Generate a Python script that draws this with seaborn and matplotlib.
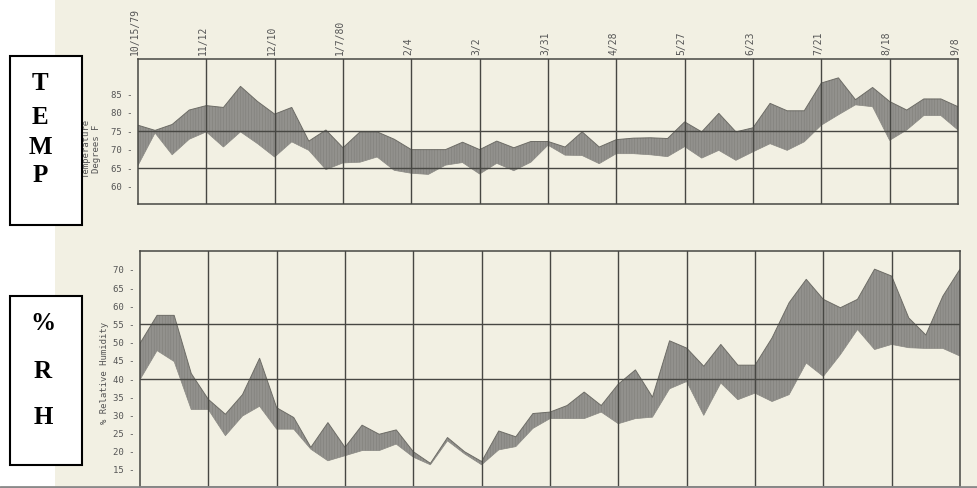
import numpy as np
import matplotlib.pyplot as plt
import matplotlib.patches as mpatches
import matplotlib.lines as mlines
from matplotlib.transforms import ScaledTranslation
import seaborn as sns

sns.set_theme(style="white")
plt.rcParams.update(
    {
        "font.family": ["DejaVu Sans Mono", "DejaVu Sans"],
        "hatch.linewidth": 0.3,
        "axes.grid": False,
    }
)

# ── Palette ──────────────────────────────────────────────────────────────────
C_PAPER = "#f2f0e3"
C_BAND = "#92918d"
C_HATCH = "#7a7974"
C_LINE = "#474743"
C_TEXT = "#555555"

# ── Data (weekly, 10/15/79 .. 9/8/80) ─────────────────────────────────────────
weeks = np.arange(49)
date_weeks = [0, 4, 8, 12, 16, 20, 24, 28, 32, 36, 40, 44, 48]
date_labels = ["10/15/79", "11/12", "12/10", "1/7/80", "2/4", "3/2", "3/31",
               "4/28", "5/27", "6/23", "7/21", "8/18", "9/8"]

temp_high = [76.6, 75.2, 76.8, 80.7, 81.9, 81.4, 87.1, 83.0, 79.6, 81.4,
             72.3, 75.3, 70.5, 74.8, 74.8, 72.8, 70.0, 70.0, 70.0, 72.0,
             70.0, 72.3, 70.5, 72.2, 72.2, 70.7, 74.8, 70.7, 72.7, 73.1,
             73.2, 73.0, 77.5, 74.8, 79.8, 74.8, 75.9, 82.5, 80.5, 80.5,
             88.0, 89.4, 83.5, 86.8, 83.0, 80.7, 83.7, 83.7, 81.6]
temp_low = [65.7, 74.5, 68.6, 72.8, 74.8, 70.7, 74.8, 71.6, 68.0, 72.1,
            69.8, 64.6, 66.4, 66.6, 68.0, 64.4, 63.6, 63.3, 65.8, 66.5,
            63.4, 66.3, 64.3, 66.6, 71.2, 68.5, 68.4, 66.2, 68.9, 68.9,
            68.6, 68.1, 70.8, 67.7, 69.8, 67.1, 69.4, 71.6, 69.8, 72.1,
            76.6, 79.4, 82.1, 81.6, 72.5, 75.3, 79.2, 79.2, 75.3]

rh_high = [49.8, 57.5, 57.5, 41.5, 34.4, 30.3, 35.7, 45.7, 32.1, 29.4,
           21.2, 28.0, 21.2, 27.3, 24.8, 26.0, 20.0, 16.8, 23.9, 20.0,
           17.3, 25.7, 24.1, 30.5, 30.9, 32.7, 36.4, 32.7, 38.6, 42.5,
           35.0, 50.5, 48.5, 43.5, 49.5, 43.8, 43.8, 51.3, 61.0, 67.4,
           61.9, 59.6, 61.9, 70.2, 68.3, 56.8, 52.1, 62.8, 70.2]
rh_low = [39.8, 47.8, 44.8, 31.6, 31.6, 24.4, 29.8, 32.5, 26.2, 26.2,
          20.7, 17.5, 18.9, 20.3, 20.3, 22.1, 18.5, 16.4, 23.0, 19.4,
          16.4, 20.5, 21.4, 26.4, 29.1, 29.1, 29.1, 30.9, 27.7, 29.1,
          29.5, 37.3, 39.3, 30.0, 38.9, 34.3, 36.1, 33.8, 35.7, 44.4,
          40.7, 46.7, 53.6, 48.1, 49.5, 48.6, 48.4, 48.4, 46.3]

temp_ticks = [60, 65, 70, 75, 80, 85]
temp_refs = [65, 75]
rh_ticks = [15, 20, 25, 30, 35, 40, 45, 50, 55, 60, 65, 70]
rh_refs = [40, 55]

W, H = 978, 488
fig = plt.figure(figsize=(W / 100, H / 100), dpi=100, facecolor=C_PAPER)

# white scan margin on the left + bottom scan edge
fig.patches.append(mpatches.Rectangle((0, 0), 55 / W, 1, transform=fig.transFigure,
                                      facecolor="white", edgecolor="none", zorder=0))
fig.lines.append(mlines.Line2D([0, 1], [1.5 / H, 1.5 / H], transform=fig.transFigure,
                               color="#8a8a8a", lw=2, zorder=5))


def px_axes(left, top, right, bottom):
    return fig.add_axes([left / W, 1 - bottom / H, (right - left) / W, (bottom - top) / H])


def draw_panel(ax, low, high, ylim, ticks, refs):
    ax.set_facecolor(C_PAPER)
    ax.fill_between(weeks, low, high, facecolor=C_BAND, edgecolor="none", zorder=1)
    # fine vertical "typewriter" texture
    ax.fill_between(weeks, low, high, facecolor="none", edgecolor=C_HATCH,
                    hatch="||||||", lw=0, zorder=1.5)
    sns.lineplot(x=weeks, y=high, ax=ax, color="#6d6c66", lw=0.7, zorder=2)
    sns.lineplot(x=weeks, y=low, ax=ax, color="#8a8984", lw=0.5, zorder=2)
    for w in date_weeks[1:-1]:
        ax.axvline(w, color=C_LINE, lw=1.0, zorder=3)
    for r in refs:
        ax.axhline(r, color=C_LINE, lw=1.0, zorder=3)
    ax.set_xlim(0, 48)
    ax.set_ylim(*ylim)
    ax.set_yticks(ticks)
    ax.set_yticklabels([f"{t} -" for t in ticks], fontsize=6.5, color=C_TEXT)
    ax.tick_params(axis="y", length=0, pad=4)
    for s in ax.spines.values():
        s.set_visible(True)
        s.set_color(C_LINE)
        s.set_linewidth(1.1)
    ax.set_xlabel("")


# ── Temperature panel ─────────────────────────────────────────────────────────
ax1 = px_axes(138, 59, 958, 204)
draw_panel(ax1, temp_low, temp_high, (55.3, 94.5), temp_ticks, temp_refs)
ax1.xaxis.tick_top()
ax1.set_xticks(date_weeks)
ax1.set_xticklabels(date_labels, rotation=90, fontsize=7, color=C_TEXT)
ax1.tick_params(axis="x", length=0, pad=3)
shift = ScaledTranslation(-3 / 100, 0, fig.dpi_scale_trans)
for lab in ax1.get_xticklabels():
    lab.set_transform(lab.get_transform() + shift)
ax1.set_ylabel("Temperature\nDegrees F", fontsize=6.5, color=C_TEXT, linespacing=1.1)
ax1.yaxis.label.set_va("center")
ax1.yaxis.set_label_coords(-0.057, 0.38)

# ── Humidity panel ────────────────────────────────────────────────────────────
ax2 = px_axes(140, 251, 960, 487)
draw_panel(ax2, rh_low, rh_high, (10.3, 75.2), rh_ticks, rh_refs)
ax2.set_xticks([])
ax2.set_ylabel("% Relative Humidity", fontsize=6.5, color=C_TEXT)
ax2.yaxis.label.set_va("center")
ax2.yaxis.set_label_coords(-0.043, 0.483)

# ── Side boxes ────────────────────────────────────────────────────────────────
for (top, bot) in [(56, 225), (296, 465)]:
    fig.patches.append(mpatches.Rectangle((10 / W, 1 - bot / H), 72 / W, (bot - top) / H,
                                          transform=fig.transFigure, facecolor="white",
                                          edgecolor="black", lw=1.5, zorder=4))
for ch, x, y in [("T", 40, 84), ("E", 40, 118), ("M", 40, 147), ("P", 40, 176),
                 ("%", 43, 323), ("R", 43, 372), ("H", 43, 418)]:
    fig.text(x / W, 1 - y / H, ch, ha="center", va="center", fontsize=18,
             fontweight="bold", family="Liberation Serif", color="black", zorder=6)

fig.savefig("out.png", dpi=100, facecolor=C_PAPER)
